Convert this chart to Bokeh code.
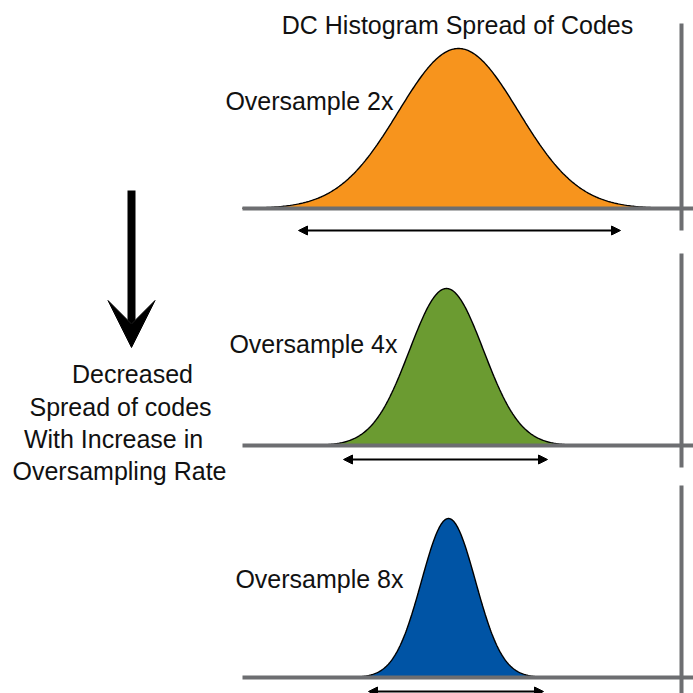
import numpy as np
from bokeh.plotting import figure
from bokeh.models import Range1d, Arrow, VeeHead, NormalHead
from bokeh.core.properties import value
from bokeh.embed import file_html
from bokeh.resources import INLINE

# ---- content ----
title = "DC Histogram Spread of Codes"
labels = ["Oversample 2x", "Oversample 4x", "Oversample 8x"]
colors = ["#F7941D", "#6B9B31", "#0054A5"]
centers = [458, 446, 448]        # centre code of each histogram
spreads = [60, 37, 27]           # sigma of each histogram
peak_heights = [160, 157, 159]   # peak height of each histogram
arrow_lo = [298, 343, 368]       # extent of spread arrow
arrow_hi = [620, 547, 543]
note_lines = ["Decreased", "Spread of codes", "With Increase in", "Oversampling Rate"]

# ---- layout (reference pixel space) ----
baselines = [208, 445, 677]
arrow_y = [230, 459, 691]
vline_y = [(23, 230), (253, 467), (485, 693)]
label_right = [393, 397, 403]
label_y = [100, 343, 578]
note_x = [132, 120, 113, 119]
note_y = [373, 406, 438, 470]

FONT = value("Liberation Sans")
GRAY = "#6D6E71"
W = 693

p = figure(width=W, height=W, output_backend="svg", toolbar_location=None,
           x_range=Range1d(0, 693), y_range=Range1d(693, 0), min_border=0)
p.axis.visible = False
p.grid.visible = False
p.outline_line_color = None
p.background_fill_color = "white"

for i in range(3):
    c, s, h, b = centers[i], spreads[i], peak_heights[i], baselines[i]
    xs = np.linspace(max(242, c - 3.6 * s), min(678, c + 3.6 * s), 300)
    ys = b - h * np.exp(-0.5 * ((xs - c) / s) ** 2)
    px = np.concatenate([[xs[0]], xs, [xs[-1]]])
    py = np.concatenate([[b], ys, [b]])
    p.patch(px, py, fill_color=colors[i], line_color=None)
    p.line(xs, ys, line_color="black", line_width=1.4)
    # baseline
    p.segment(x0=[242], y0=[b], x1=[693], y1=[b], line_color=GRAY,
              line_width=4, line_cap="butt")
    # right vertical rule
    p.segment(x0=[681], y0=[vline_y[i][0]], x1=[681], y1=[vline_y[i][1]],
              line_color=GRAY, line_width=4, line_cap="butt")
    # spread double arrow
    p.add_layout(Arrow(x_start=arrow_lo[i], y_start=arrow_y[i],
                       x_end=arrow_hi[i], y_end=arrow_y[i],
                       line_color="black", line_width=2,
                       start=NormalHead(size=9, fill_color="black", line_color="black", line_width=1),
                       end=NormalHead(size=9, fill_color="black", line_color="black", line_width=1)))
    p.text(x=[label_right[i]], y=[label_y[i]], text=[labels[i]], text_font=FONT,
           text_font_size="25px", text_align="right", text_baseline="middle",
           text_color="#111111")

p.text(x=[457], y=[24], text=[title], text_font=FONT, text_font_size="25px",
       text_align="center", text_baseline="middle", text_color="#111111")

# big down arrow
p.add_layout(Arrow(x_start=131, y_start=190, x_end=131, y_end=347,
                   line_color="black", line_width=8,
                   end=VeeHead(size=47, fill_color="black", line_color="black", line_width=1)))

p.text(x=note_x, y=note_y, text=note_lines, text_font=FONT, text_font_size="25px",
       text_align="center", text_baseline="middle", text_color="#111111")

open("out.html", "w").write(file_html(p, INLINE))
